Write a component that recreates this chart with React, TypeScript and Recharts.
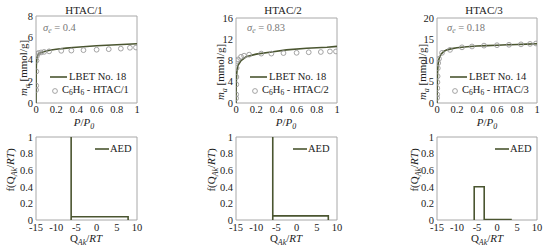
import React from "react";
import { ComposedChart, Line, Scatter, XAxis, YAxis, ReferenceArea, Legend } from "recharts";

const FONT = "'Liberation Serif', 'DejaVu Serif', serif";
const LINE_COLOR = "#4a5530";
const PT_COLOR = "#9a9a9a";
const FRAME = "#a8a8a8";

// isotherm panels: P/P0 axis
const P_TICKS = [0, 0.2, 0.4, 0.6, 0.8, 1];

// HTAC/1
const H1_LINE_P = [0, 0.001, 0.003, 0.006, 0.01, 0.02, 0.04, 0.07, 0.1, 0.15, 0.2, 0.3, 0.4, 0.5, 0.6, 0.7, 0.8, 0.9, 1.0];
const H1_LINE_M = [0, 2.2, 3.4, 3.9, 4.2, 4.45, 4.6, 4.7, 4.78, 4.87, 4.95, 5.05, 5.13, 5.2, 5.26, 5.31, 5.36, 5.4, 5.45];
const H1_PTS_P = [0.001, 0.002, 0.003, 0.005, 0.008, 0.012, 0.025, 0.05, 0.08, 0.13, 0.25, 0.35, 0.47, 0.6, 0.72, 0.84, 0.93, 0.99];
const H1_PTS_M = [1.2, 1.6, 2.9, 3.9, 4.3, 4.5, 4.6, 4.65, 4.7, 4.75, 4.8, 4.82, 4.86, 4.9, 4.95, 5.0, 5.08, 5.1];

// HTAC/2
const H2_LINE_P = [0, 0.001, 0.003, 0.006, 0.01, 0.02, 0.05, 0.1, 0.2, 0.35, 0.5, 0.7, 0.9, 1.0];
const H2_LINE_M = [0, 2.5, 4.2, 5.3, 6.1, 7.1, 8.0, 8.7, 9.2, 9.6, 10.0, 10.3, 10.5, 10.65];
const H2_PTS_P = [0.001, 0.002, 0.003, 0.004, 0.006, 0.01, 0.02, 0.05, 0.08, 0.13, 0.25, 0.35, 0.47, 0.6, 0.72, 0.84, 0.93, 0.99];
const H2_PTS_M = [0.9, 1.6, 3.5, 4.9, 6.6, 7.9, 8.2, 8.7, 8.9, 9.1, 9.3, 9.3, 9.4, 9.45, 9.55, 9.6, 9.7, 9.7];

// HTAC/3
const H3_LINE_P = [0, 0.002, 0.005, 0.01, 0.02, 0.04, 0.07, 0.1, 0.15, 0.2, 0.3, 0.4, 0.5, 0.6, 0.7, 0.8, 0.9, 1.0];
const H3_LINE_M = [0, 4, 7, 9, 10.4, 11.5, 12.2, 12.5, 12.8, 13.0, 13.25, 13.4, 13.5, 13.6, 13.7, 13.75, 13.85, 13.95];
const H3_PTS_P = [0.001, 0.002, 0.003, 0.004, 0.006, 0.008, 0.012, 0.02, 0.05, 0.13, 0.25, 0.35, 0.47, 0.6, 0.72, 0.84, 0.93, 0.99];
const H3_PTS_M = [1.2, 2.0, 3.5, 4.9, 6.3, 8.2, 9.4, 10.4, 11.8, 12.5, 13.1, 13.3, 13.5, 13.6, 13.7, 13.8, 13.9, 14.0];

// AED panels: Q_Ak/RT axis
const Q_TICKS = [-15, -10, -5, 0, 5, 10];
const F_TICKS = [0, 0.2, 0.4, 0.6, 0.8, 1];
const AED1_Q = [-6.3, -6.3, -6.3, 7.8, 7.8];
const AED1_F = [0, 1, 0.04, 0.04, 0];
const AED2_Q = [-5.9, -5.9, -5.9, 7.85, 7.85];
const AED2_F = [0, 1, 0.05, 0.05, 0];
const AED3_Q = [-5.7, -5.7, -3.2, -3.2, 3.5, 3.5];
const AED3_F = [0, 0.4, 0.4, 0.006, 0.006, 0];

const zip = (xs: number[], ys: number[]) => xs.map((x, i) => ({ x, y: ys[i] }));

const tickStyle = { fontFamily: FONT, fontSize: 10.5, fill: "#222" };
const fmt = (v: number) => String(v);

const Sub = ({ children, italic }: { children: React.ReactNode; italic?: boolean }) => (
  <sub style={{ fontSize: "0.72em", verticalAlign: "-0.3em", fontStyle: italic ? "italic" : "normal" }}>{children}</sub>
);

const Circle = (props: any) => (
  <circle cx={props.cx} cy={props.cy} r={2.4} fill="none" stroke={PT_COLOR} strokeWidth={0.9} />
);

type PanelProps = {
  box: [number, number, number, number];
  xDomain: [number, number];
  xTicks: number[];
  yDomain: [number, number];
  yTicks: number[];
  line: { x: number; y: number }[];
  points?: { x: number; y: number }[];
  legendAt: [number, number];
  legend: React.ReactNode;
  tickMargin: number;
};

const Panel = ({ box, xDomain, xTicks, yDomain, yTicks, line, points, legendAt, legend, tickMargin }: PanelProps) => {
  const [x0, y0, x1, y1] = box;
  const left = x0 - 40;
  const top = y0 - 10;
  const width = x1 - x0 + 50;
  const height = y1 - y0 + 30;
  return (
    <div style={{ position: "absolute", left, top }}>
      <ComposedChart width={width} height={height} margin={{ top: 10, right: 10, left: 0, bottom: 0 }}>
        <XAxis dataKey="x" type="number" domain={xDomain} ticks={xTicks} allowDataOverflow
          tickLine={false} axisLine={false} tickSize={0} tickMargin={tickMargin} height={20}
          tick={tickStyle} tickFormatter={fmt} interval={0} />
        <YAxis dataKey="y" type="number" domain={yDomain} ticks={yTicks} allowDataOverflow
          tickLine={false} axisLine={false} tickSize={0} tickMargin={3} width={40}
          tick={tickStyle} tickFormatter={fmt} interval={0} />
        <ReferenceArea x1={xDomain[0]} x2={xDomain[1]} y1={yDomain[0]} y2={yDomain[1]}
          fill="none" stroke={FRAME} strokeWidth={1} ifOverflow="visible" />
        <Line data={line} dataKey="y" type="linear" stroke={LINE_COLOR} strokeWidth={1.6}
          dot={false} activeDot={false} isAnimationActive={false} legendType="none" />
        {points && (
          <Scatter data={points} dataKey="y" shape={Circle} isAnimationActive={false} legendType="none" />
        )}
        <Legend layout="vertical" align="center" verticalAlign="middle"
          wrapperStyle={{ left: legendAt[0] - left, top: legendAt[1] - top, width: "auto", height: "auto" }}
          content={() => legend} />
      </ComposedChart>
    </div>
  );
};

const legendText = { fontFamily: FONT, fontSize: 10.5, color: "#222", lineHeight: "13px", whiteSpace: "nowrap" as const };

const IsoLegend = ({ no, name }: { no: string; name: string }) => (
  <div style={legendText}>
    <div style={{ display: "flex", alignItems: "center" }}>
      <svg width={19} height={8}><line x1={0} y1={4} x2={17} y2={4} stroke={LINE_COLOR} strokeWidth={1.6} /></svg>
      <span>LBET No. {no}</span>
    </div>
    <div style={{ display: "flex", alignItems: "center" }}>
      <svg width={12} height={8}><circle cx={5} cy={4} r={2.4} fill="none" stroke={PT_COLOR} strokeWidth={0.9} /></svg>
      <span>C<Sub>6</Sub>H<Sub>6</Sub> - {name}</span>
    </div>
  </div>
);

const AedLegend = () => (
  <div style={{ ...legendText, display: "flex", alignItems: "center" }}>
    <svg width={15} height={8}><line x1={0} y1={4} x2={14} y2={4} stroke={LINE_COLOR} strokeWidth={1.6} /></svg>
    <span>AED</span>
  </div>
);

const txt = { position: "absolute" as const, fontFamily: FONT, fontSize: 11, color: "#222", whiteSpace: "nowrap" as const, lineHeight: 1 };

const Title = ({ x, y, children }: { x: number; y: number; children: React.ReactNode }) => (
  <div style={{ ...txt, left: x, top: y, transform: "translate(-50%, -50%)" }}>{children}</div>
);

const YLabel = ({ x, y, children }: { x: number; y: number; children: React.ReactNode }) => (
  <div style={{ ...txt, left: x, top: y, transform: "translate(-50%, -50%) rotate(-90deg)" }}>{children}</div>
);

const Sigma = ({ x, y, v }: { x: number; y: number; v: string }) => (
  <div style={{ ...txt, left: x, top: y, color: "#777", fontSize: 10.5 }}>
    <i>σ</i><Sub italic>e</Sub> = {v}
  </div>
);

const PLabel = () => (<span><i>P</i>/<i>P</i><Sub italic>0</Sub></span>);
const MLabel = () => (<span><i>m</i><Sub italic>a</Sub> [mmol/g]</span>);
const QLabel = () => (<span>Q<Sub italic>Ak</Sub>/<i>RT</i></span>);
const FLabel = () => (<span>f(Q<Sub italic>Ak</Sub>/<i>RT</i>)</span>);

export default function App() {
  return (
    <div style={{ position: "fixed", left: 0, top: 0, width: 550, height: 252, background: "#fff", overflow: "hidden", fontFamily: FONT }}>
      {/* top row: isotherms */}
      <Panel box={[36, 16, 137, 103]} xDomain={[0, 1]} xTicks={P_TICKS} yDomain={[0, 8]} yTicks={[0, 2, 4, 6, 8]}
        line={zip(H1_LINE_P, H1_LINE_M)} points={zip(H1_PTS_P, H1_PTS_M)} tickMargin={3}
        legendAt={[50, 70]} legend={<IsoLegend no="18" name="HTAC/1" />} />
      <Panel box={[236, 18, 337, 103]} xDomain={[0, 1]} xTicks={P_TICKS} yDomain={[0, 16]} yTicks={[0, 4, 8, 12, 16]}
        line={zip(H2_LINE_P, H2_LINE_M)} points={zip(H2_PTS_P, H2_PTS_M)} tickMargin={3}
        legendAt={[250, 70]} legend={<IsoLegend no="18" name="HTAC/2" />} />
      <Panel box={[437, 18, 537, 103]} xDomain={[0, 1]} xTicks={P_TICKS} yDomain={[0, 20]} yTicks={[0, 5, 10, 15, 20]}
        line={zip(H3_LINE_P, H3_LINE_M)} points={zip(H3_PTS_P, H3_PTS_M)} tickMargin={3}
        legendAt={[450, 70]} legend={<IsoLegend no="14" name="HTAC/3" />} />

      {/* bottom row: energy distributions */}
      <Panel box={[36, 137, 137, 220]} xDomain={[-15, 10]} xTicks={Q_TICKS} yDomain={[0, 1]} yTicks={F_TICKS}
        line={zip(AED1_Q, AED1_F)} tickMargin={4} legendAt={[95, 142]} legend={<AedLegend />} />
      <Panel box={[236, 137, 337, 220]} xDomain={[-15, 10]} xTicks={Q_TICKS} yDomain={[0, 1]} yTicks={F_TICKS}
        line={zip(AED2_Q, AED2_F)} tickMargin={4} legendAt={[293, 142]} legend={<AedLegend />} />
      <Panel box={[437, 137, 537, 220]} xDomain={[-15, 10]} xTicks={Q_TICKS} yDomain={[0, 1]} yTicks={F_TICKS}
        line={zip(AED3_Q, AED3_F)} tickMargin={4} legendAt={[495, 142]} legend={<AedLegend />} />

      <Title x={84} y={10}>HTAC/1</Title>
      <Title x={283} y={10}>HTAC/2</Title>
      <Title x={484} y={10}>HTAC/3</Title>

      <Sigma x={43} y={23} v="0.4" />
      <Sigma x={247} y={23} v="0.83" />
      <Sigma x={447} y={23} v="0.18" />

      <Title x={84} y={124}><PLabel /></Title>
      <Title x={286} y={124}><PLabel /></Title>
      <Title x={487} y={124}><PLabel /></Title>

      <Title x={86} y={240}><QLabel /></Title>
      <Title x={286} y={240}><QLabel /></Title>
      <Title x={487} y={240}><QLabel /></Title>

      <YLabel x={25} y={68}><MLabel /></YLabel>
      <YLabel x={222} y={72}><MLabel /></YLabel>
      <YLabel x={424} y={72}><MLabel /></YLabel>

      <YLabel x={12} y={170}><FLabel /></YLabel>
      <YLabel x={213} y={170}><FLabel /></YLabel>
      <YLabel x={416} y={170}><FLabel /></YLabel>
    </div>
  );
}
